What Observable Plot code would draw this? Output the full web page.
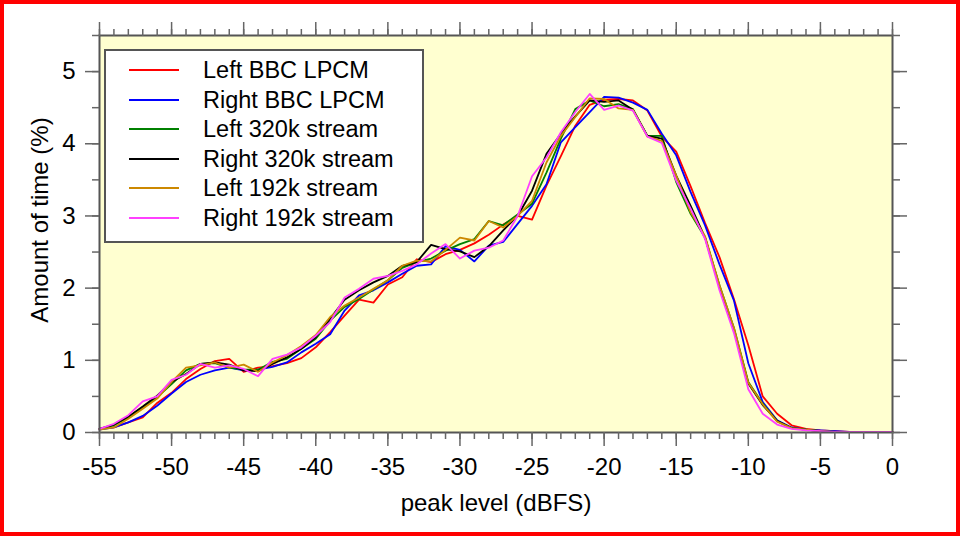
<!DOCTYPE html>
<html><head><meta charset="utf-8">
<script src="https://cdn.jsdelivr.net/npm/d3@7"></script>
<script src="https://cdn.jsdelivr.net/npm/@observablehq/plot@0.6"></script>
<style>
body{margin:0;background:#fff;}
#wrap{position:relative;width:960px;height:536px;font-family:"Liberation Sans",Arial,sans-serif;}
#border{position:absolute;left:0;top:0;width:960px;height:536px;box-sizing:border-box;border:4px solid #ff0000;pointer-events:none;}
#legend{position:absolute;left:104px;top:49px;width:320px;height:194px;box-sizing:border-box;background:#fff;border:2px solid #555;}
.swatch{position:absolute;left:23px;width:50px;height:2px;}
.lab{position:absolute;left:97px;height:30px;line-height:30px;font-size:23.5px;color:#000;white-space:nowrap;}
</style></head>
<body>
<div id="wrap"><div id="chart"></div><div id="legend"></div><div id="border"></div></div>
<script>
const peakLevels = d3.range(-55, 1); // -55 .. 0 dBFS
const seriesNames = ["Left BBC LPCM","Right BBC LPCM","Left 320k stream","Right 320k stream","Left 192k stream","Right 192k stream"];
const seriesColors = ["#ff0000","#0000ff","#008000","#000000","#cc8800","#ff40ff"];

const leftBBC = [0.05,0.07,0.14,0.21,0.41,0.55,0.74,0.88,0.99,1.02,
  0.84,0.90,0.92,0.96,1.03,1.18,1.39,1.62,1.84,1.80,
  2.05,2.15,2.40,2.36,2.47,2.53,2.62,2.74,2.88,3.00,
  2.95,3.42,3.83,4.25,4.54,4.61,4.62,4.60,4.46,4.10,
  3.89,3.41,2.90,2.43,1.85,1.21,0.50,0.26,0.10,0.05,
  0.03,0.02,0.01,0.01,0.01,0.01];
const rightBBC = [0.04,0.07,0.14,0.23,0.37,0.54,0.70,0.80,0.86,0.90,
  0.86,0.87,0.91,0.97,1.11,1.23,1.36,1.69,1.90,1.97,
  2.08,2.20,2.31,2.33,2.58,2.53,2.37,2.59,2.64,2.89,
  3.14,3.44,4.02,4.23,4.44,4.65,4.64,4.57,4.47,4.14,
  3.84,3.33,2.87,2.33,1.83,0.96,0.42,0.17,0.07,0.04,
  0.03,0.02,0.01,0.01,0.01,0.01];
const left320 = [0.05,0.10,0.21,0.35,0.49,0.67,0.86,0.95,0.96,0.90,
  0.87,0.87,0.98,1.02,1.16,1.30,1.55,1.74,1.85,1.98,
  2.11,2.28,2.36,2.41,2.52,2.61,2.68,2.93,2.87,3.02,
  3.17,3.60,4.07,4.48,4.60,4.52,4.55,4.48,4.11,4.11,
  3.47,3.03,2.70,2.04,1.45,0.70,0.40,0.16,0.06,0.04,
  0.02,0.01,0.01,0.01,0.01,0.01];
const right320 = [0.05,0.11,0.22,0.36,0.51,0.70,0.81,0.95,0.97,0.94,
  0.86,0.85,0.95,1.04,1.16,1.32,1.58,1.84,1.97,2.08,
  2.17,2.31,2.36,2.60,2.54,2.51,2.43,2.58,2.80,3.00,
  3.35,3.86,4.14,4.38,4.60,4.58,4.60,4.47,4.11,4.07,
  3.56,3.14,2.70,2.02,1.42,0.68,0.38,0.16,0.06,0.04,
  0.02,0.01,0.01,0.01,0.01,0.01];
const left192 = [0.04,0.07,0.19,0.33,0.47,0.70,0.90,0.93,0.97,0.90,
  0.94,0.84,0.97,1.07,1.20,1.35,1.60,1.76,1.87,1.99,
  2.11,2.31,2.38,2.37,2.53,2.70,2.66,2.93,2.84,3.00,
  3.21,3.74,4.11,4.37,4.63,4.62,4.49,4.47,4.10,4.04,
  3.56,3.05,2.72,2.04,1.45,0.69,0.39,0.15,0.06,0.04,
  0.02,0.01,0.01,0.01,0.01,0.01];
const right192 = [0.05,0.12,0.24,0.43,0.50,0.73,0.80,0.95,0.90,0.93,
  0.88,0.78,1.02,1.08,1.18,1.34,1.53,1.87,1.99,2.13,
  2.17,2.24,2.33,2.48,2.61,2.41,2.52,2.56,2.66,3.00,
  3.55,3.81,4.16,4.44,4.69,4.47,4.53,4.46,4.10,4.01,
  3.49,3.10,2.68,1.97,1.38,0.60,0.26,0.11,0.05,0.03,
  0.02,0.01,0.01,0.01,0.01,0.01];

const xMajorTicks = d3.range(-55, 1, 5);
const xMinorTicks = d3.range(-55, 1, 1);
const yMajorTicks = [0,1,2,3,4,5];
const yMinorTicks = d3.range(0, 5.51, 0.5);
const xTitle = "peak level (dBFS)";
const yTitle = "Amount of time (%)";

const allValues = [leftBBC, rightBBC, left320, right320, left192, right192];
const data = allValues.flatMap((vals, s) => vals.map((v, i) => ({x: peakLevels[i], y: v, series: seriesNames[s]})));

const tickStyle = {stroke: "#666", strokeWidth: 1.5};
const blank = () => "";

const chart = Plot.plot({
  width: 960, height: 536,
  marginLeft: 99, marginRight: 68, marginTop: 35, marginBottom: 104,
  style: {background: "white", fontFamily: "'Liberation Sans', Arial, sans-serif", fontSize: "24px", color: "#000"},
  x: {domain: [-55, 0]},
  y: {domain: [0, 5.5]},
  color: {domain: seriesNames, range: seriesColors},
  marks: [
    Plot.frame({fill: "#ffffd0"}),
    Plot.line(data, {x: "x", y: "y", z: "series", stroke: "series", strokeWidth: 1.8}),
    Plot.frame({stroke: "#555", strokeWidth: 2}),
    Plot.axisX({anchor: "bottom", ticks: xMajorTicks, tickSize: 14, tickPadding: 11, tickFormat: d => String(d), label: null, fontSize: 24, ...tickStyle}),
    Plot.axisX({anchor: "bottom", ticks: xMinorTicks, tickSize: 7, tickFormat: blank, label: null, ...tickStyle}),
    Plot.axisX({anchor: "top", ticks: xMajorTicks, tickSize: 14, tickFormat: blank, label: null, ...tickStyle}),
    Plot.axisX({anchor: "top", ticks: xMinorTicks, tickSize: 7, tickFormat: blank, label: null, ...tickStyle}),
    Plot.axisY({anchor: "left", ticks: yMajorTicks, tickSize: 14, tickPadding: 10, tickFormat: d => String(d), label: null, fontSize: 24, ...tickStyle}),
    Plot.axisY({anchor: "left", ticks: yMinorTicks, tickSize: 7, tickFormat: blank, label: null, ...tickStyle}),
    Plot.axisY({anchor: "right", ticks: yMajorTicks, tickSize: 14, tickFormat: blank, label: null, ...tickStyle}),
    Plot.axisY({anchor: "right", ticks: yMinorTicks, tickSize: 7, tickFormat: blank, label: null, ...tickStyle}),
    Plot.text([xTitle], {frameAnchor: "bottom", dy: 78, text: d => d, fontSize: 24, textAnchor: "middle"}),
    Plot.text([yTitle], {frameAnchor: "left", dx: -59, dy: -14, rotate: -90, text: d => d, fontSize: 24, textAnchor: "middle"})
  ]
});
document.getElementById("chart").appendChild(chart);

const legend = document.getElementById("legend");
seriesNames.forEach((name, i) => {
  const cy = 19 + i * 29.6;
  const sw = document.createElement("div");
  sw.className = "swatch";
  sw.style.top = (cy - 1) + "px";
  sw.style.background = seriesColors[i];
  legend.appendChild(sw);
  const lb = document.createElement("div");
  lb.className = "lab";
  lb.style.top = (cy - 15) + "px";
  lb.textContent = name;
  legend.appendChild(lb);
});
</script>
</body></html>
